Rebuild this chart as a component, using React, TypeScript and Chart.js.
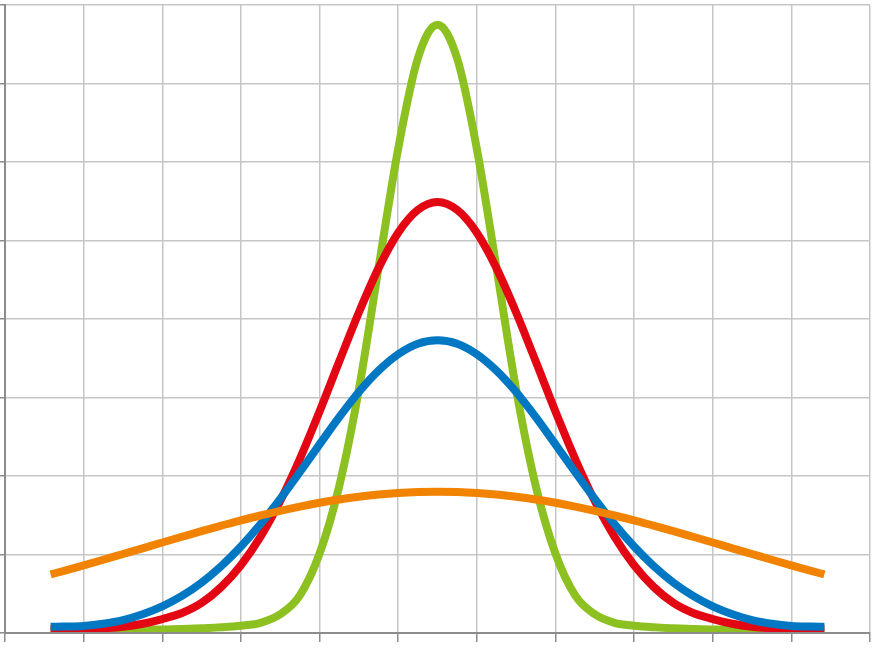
import React, { useEffect, useRef } from "react";
import { Chart, registerables } from "chart.js";

Chart.register(...registerables);

// x positions in grid units (0..11), curves centred at 5.5
const xs = [0.58, 0.75, 1, 1.25, 1.5, 1.75, 2, 2.25, 2.5, 2.75, 3, 3.25, 3.5, 3.75, 4, 4.25, 4.5, 4.75, 5, 5.25, 5.5,
  5.75, 6, 6.25, 6.5, 6.75, 7, 7.25, 7.5, 7.75, 8, 8.25, 8.5, 8.75, 9, 9.25, 9.5, 9.75, 10, 10.25, 10.42];

const orangeValues = [0.746, 0.792, 0.862, 0.933, 1.006, 1.079, 1.153, 1.226, 1.298, 1.367, 1.435, 1.497, 1.556, 1.610, 1.659, 1.701, 1.736, 1.764, 1.784, 1.796, 1.800,
  1.796, 1.784, 1.764, 1.736, 1.701, 1.659, 1.610, 1.556, 1.497, 1.435, 1.367, 1.298, 1.226, 1.153, 1.079, 1.006, 0.933, 0.862, 0.792, 0.746];

const blueValues = [0.08, 0.082, 0.09, 0.118, 0.165, 0.24, 0.34, 0.472, 0.642, 0.852, 1.101, 1.388, 1.708, 2.051, 2.402, 2.749, 3.070, 3.342, 3.551, 3.685, 3.730,
  3.685, 3.551, 3.342, 3.070, 2.749, 2.402, 2.051, 1.708, 1.388, 1.101, 0.852, 0.642, 0.472, 0.34, 0.24, 0.165, 0.118, 0.09, 0.082, 0.08];

const redValues = [0.05, 0.05, 0.052, 0.06, 0.08, 0.118, 0.178, 0.255, 0.383, 0.586, 0.864, 1.228, 1.681, 2.219, 2.821, 3.458, 4.083, 4.648, 5.099, 5.389, 5.490,
  5.389, 5.099, 4.648, 4.083, 3.458, 2.821, 2.219, 1.681, 1.228, 0.864, 0.586, 0.383, 0.255, 0.178, 0.118, 0.08, 0.06, 0.052, 0.05, 0.05];

const greenValues = [0.03, 0.03, 0.031, 0.033, 0.036, 0.04, 0.045, 0.051, 0.06, 0.072, 0.092, 0.13, 0.238, 0.48, 1.01, 1.87, 3.10, 4.65, 6.17, 7.32, 7.75,
  7.32, 6.17, 4.65, 3.10, 1.87, 1.01, 0.48, 0.238, 0.13, 0.092, 0.072, 0.06, 0.051, 0.045, 0.04, 0.036, 0.033, 0.031, 0.03, 0.03];

const xMin = 0;
const xMax = 11;
const yMin = 0;
const yMax = 8;

const series = [
  { name: "orange", values: orangeValues, color: "#F18300" },
  { name: "blue", values: blueValues, color: "#0077C2" },
  { name: "red", values: redValues, color: "#E30613" },
  { name: "green", values: greenValues, color: "#8DC021" },
];

export default function App() {
  const canvasRef = useRef<HTMLCanvasElement | null>(null);

  useEffect(() => {
    const canvas = canvasRef.current;
    if (!canvas) return;
    const gridColor = "#c6c6c6";
    const axisColor = "#8c8c8c";
    const chart = new Chart(canvas, {
      type: "line",
      data: {
        datasets: series.map((s) => ({
          label: s.name,
          data: xs.map((x, i) => ({ x, y: s.values[i] })),
          borderColor: s.color,
          backgroundColor: s.color,
          borderWidth: 8,
          pointRadius: 0,
          fill: false,
          cubicInterpolationMode: "monotone" as const,
          clip: { left: 10, top: 10, right: 10, bottom: -1 },
        })),
      },
      options: {
        animation: false,
        responsive: false,
        maintainAspectRatio: false,
        layout: { padding: { left: 0, top: 5, right: 5, bottom: 8 } },
        plugins: {
          legend: { display: false },
          tooltip: { enabled: false },
          title: { display: false },
        },
        scales: {
          x: {
            type: "linear",
            min: xMin,
            max: xMax,
            ticks: { display: false, stepSize: 1 },
            grid: {
              color: gridColor,
              lineWidth: 1.5,
              tickColor: axisColor,
              tickLength: 9,
              drawTicks: true,
            },
            border: { display: true, color: axisColor, width: 2 },
          },
          y: {
            type: "linear",
            min: yMin,
            max: yMax,
            ticks: { display: false, stepSize: 1 },
            grid: {
              color: gridColor,
              lineWidth: 1.5,
              tickColor: axisColor,
              tickLength: 5,
              drawTicks: true,
            },
            border: { display: true, color: axisColor, width: 2 },
          },
        },
      },
    });
    return () => chart.destroy();
  }, []);

  return (
    <div style={{ position: "fixed", left: 0, top: 0, width: 875, height: 650, background: "#fff" }}>
      <canvas ref={canvasRef} width={875} height={650} style={{ display: "block" }} />
    </div>
  );
}
